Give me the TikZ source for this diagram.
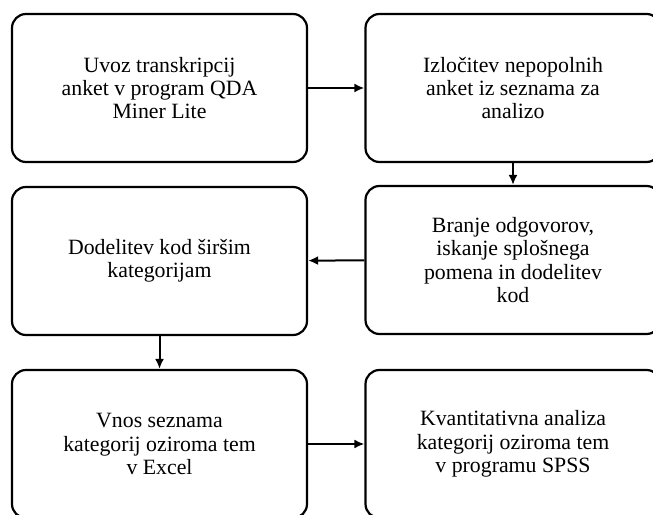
\documentclass[tikz,border=0pt]{standalone}
\usepackage{fontspec}
\setmainfont{Liberation Serif}
\usetikzlibrary{arrows.meta}
\begin{document}
\begin{tikzpicture}[>={Latex[length=10pt,width=9pt]}, x=1pt, y=1pt,
  korak/.style={draw, line width=2.2pt, rounded corners=14pt, minimum width=295pt,
    minimum height=148pt, align=center, font=\fontsize{21.8}{23.3}\selectfont},
  puscica/.style={->, line width=2pt}]
 \useasboundingbox (0,0) rectangle (653,514);
 \clip (0,0) rectangle (653,514);
 \node[korak] (uvoz) at (159.5,426) {Uvoz transkripcij\\anket v program QDA\\Miner Lite};
 \node[korak] (izlocitev) at (513,426) {Izločitev nepopolnih\\anket iz seznama za\\analizo};
 \node[korak] (branje) at (513,254) {Branje odgovorov,\\iskanje splošnega\\pomena in dodelitev\\kod};
 \node[korak] (dodelitev) at (159.5,253) {Dodelitev kod širšim\\kategorijam};
 \node[korak] (vnos) at (159.5,70) {Vnos seznama\\kategorij oziroma tem\\v Excel};
 \node[korak] (analiza) at (513,70) {Kvantitativna analiza\\kategorij oziroma tem\\v programu SPSS};
 \draw[puscica] (uvoz) -- (izlocitev);
 \draw[puscica] (izlocitev) -- (branje);
 \draw[puscica] (branje) -- (dodelitev);
 \draw[puscica] (dodelitev) -- (vnos);
 \draw[puscica] (vnos) -- (analiza);
\end{tikzpicture}
\end{document}
